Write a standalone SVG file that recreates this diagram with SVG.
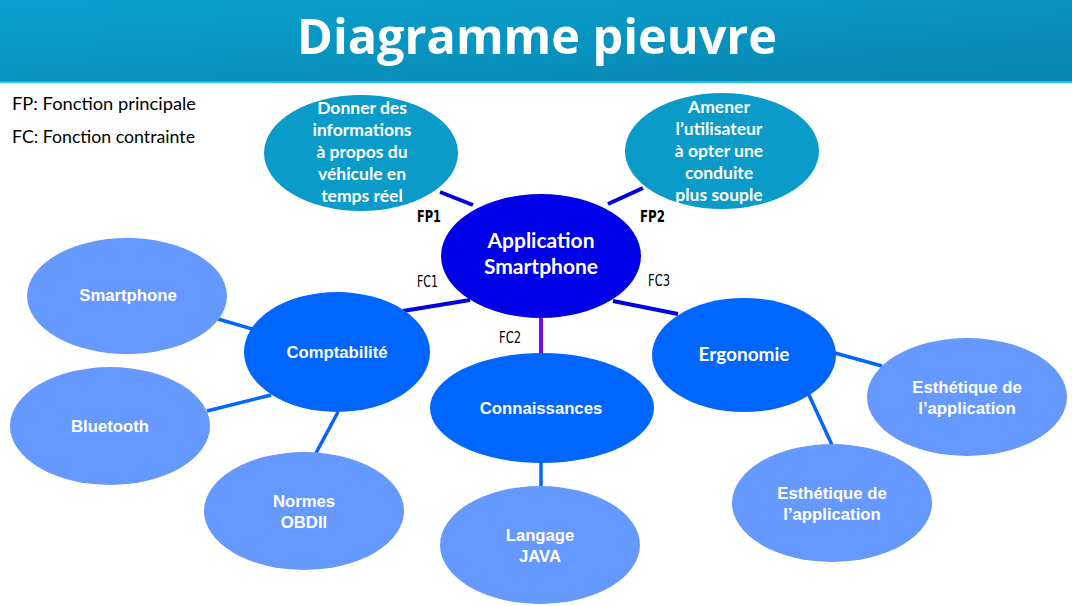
<svg xmlns="http://www.w3.org/2000/svg" width="1072" height="606" viewBox="0 0 1072 606">
<defs>
<linearGradient id="hdr" x1="0" y1="0" x2="1" y2="1">
<stop offset="0" stop-color="#0aa2cf"/>
<stop offset="1" stop-color="#0785b0"/>
</linearGradient>
<style>
.t{fill:#fff;font-weight:bold;text-anchor:middle}
.cal{font-family:Lato,"Open Sans","Liberation Sans",sans-serif;font-size:17.5px}
.ari{font-family:"Liberation Sans",Arial,sans-serif;font-size:16.7px}
.lbl{font-family:"DejaVu Sans Condensed","Liberation Sans",sans-serif;font-size:16px;fill:#000}
.teal{fill:#0a9bc9}
.core{fill:#0000e8}
.mid{fill:#0066ff}
.leaf{fill:#6699ff}
.c1{stroke:#0000e0;stroke-width:4;fill:none}
.c2{stroke:#0066ff;stroke-width:3.5;fill:none}
</style>
</defs>
<rect width="1072" height="606" fill="#fff"/>
<g id="header">
<rect x="0" y="0" width="1072" height="82" fill="url(#hdr)"/>
<rect x="0" y="81" width="1072" height="2" fill="#1ec3ea"/>
<text x="537" y="54" text-anchor="middle" font-family="'Open Sans',Lato,sans-serif" font-weight="bold" font-size="48" textLength="480" lengthAdjust="spacingAndGlyphs" fill="#fff">Diagramme pieuvre</text>
</g>
<g id="legend" font-family="Lato,'Open Sans',sans-serif" font-size="17.5" fill="#000">
<text x="12" y="110" textLength="184" lengthAdjust="spacingAndGlyphs">FP: Fonction principale</text>
<text x="12" y="143" textLength="183" lengthAdjust="spacingAndGlyphs">FC: Fonction contrainte</text>
</g>
<g id="connectors">
<line class="c1" x1="440" y1="192" x2="473" y2="205"/>
<line class="c1" x1="608" y1="204" x2="643" y2="188"/>
<line class="c1" x1="403" y1="311" x2="470" y2="300"/>
<line class="c1" x1="613" y1="301" x2="678" y2="314"/>
<line stroke="#6a10f0" stroke-width="4" x1="541" y1="316" x2="541" y2="354"/>
<line class="c2" x1="218" y1="319" x2="256" y2="330"/>
<line class="c2" x1="207" y1="411" x2="271" y2="395"/>
<line class="c2" x1="338" y1="412" x2="316" y2="453"/>
<line class="c2" x1="541" y1="462" x2="541" y2="487"/>
<line class="c2" x1="835" y1="353" x2="882" y2="366"/>
<line class="c2" x1="809" y1="395" x2="832" y2="445"/>
<text class="lbl" x="417" y="222" textLength="24" lengthAdjust="spacingAndGlyphs" font-weight="bold">FP1</text>
<text class="lbl" x="640" y="222" textLength="25" lengthAdjust="spacingAndGlyphs" font-weight="bold">FP2</text>
<text class="lbl" x="417" y="287" textLength="21" lengthAdjust="spacingAndGlyphs">FC1</text>
<text class="lbl" x="648" y="286" textLength="22" lengthAdjust="spacingAndGlyphs">FC3</text>
<text class="lbl" x="499" y="343" textLength="22" lengthAdjust="spacingAndGlyphs">FC2</text>
</g>
<g id="fp1">
<ellipse class="teal" cx="361" cy="153" rx="97" ry="58"/>
<text class="t cal" x="362"><tspan x="362" y="114">Donner des</tspan><tspan x="362" y="136">informations</tspan><tspan x="362" y="158">à propos du</tspan><tspan x="362" y="180">véhicule en</tspan><tspan x="362" y="202">temps réel</tspan></text>
</g>
<g id="fp2">
<ellipse class="teal" cx="722" cy="151" rx="97" ry="58"/>
<text class="t cal" x="719"><tspan x="719" y="113">Amener</tspan><tspan x="719" y="135">l’utilisateur</tspan><tspan x="719" y="157">à opter  une</tspan><tspan x="719" y="179">conduite</tspan><tspan x="719" y="201">plus souple</tspan></text>
</g>
<g id="center">
<ellipse class="core" cx="541" cy="256" rx="100" ry="62"/>
<text class="t cal" style="font-size:21px"><tspan x="541" y="248">Application</tspan><tspan x="541" y="274">Smartphone</tspan></text>
</g>
<g id="comptabilite">
<ellipse class="mid" cx="337" cy="352" rx="93" ry="60"/>
<text class="t ari" x="337" y="358">Comptabilité</text>
</g>
<g id="smartphone">
<ellipse class="leaf" cx="127" cy="296" rx="100" ry="58"/>
<text class="t ari" x="128" y="301">Smartphone</text>
</g>
<g id="bluetooth">
<ellipse class="leaf" cx="110" cy="426" rx="100" ry="59"/>
<text class="t ari" x="110" y="432">Bluetooth</text>
</g>
<g id="normes">
<ellipse class="leaf" cx="304" cy="511" rx="100" ry="59"/>
<text class="t ari"><tspan x="304" y="507">Normes</tspan><tspan x="304" y="528">OBDII</tspan></text>
</g>
<g id="connaissances">
<ellipse class="mid" cx="542" cy="408" rx="112" ry="55"/>
<text class="t ari" x="541" y="414">Connaissances</text>
</g>
<g id="langage">
<ellipse class="leaf" cx="540" cy="545" rx="100" ry="59"/>
<text class="t ari"><tspan x="540" y="541">Langage</tspan><tspan x="540" y="562">JAVA</tspan></text>
</g>
<g id="ergonomie">
<ellipse class="mid" cx="744" cy="355" rx="92" ry="57"/>
<text class="t cal" x="744" y="361" style="font-size:19px">Ergonomie</text>
</g>
<g id="esthetique1">
<ellipse class="leaf" cx="967" cy="397" rx="100" ry="59"/>
<text class="t ari"><tspan x="967" y="393">Esthétique de</tspan><tspan x="967" y="414">l’application</tspan></text>
</g>
<g id="esthetique2">
<ellipse class="leaf" cx="832" cy="503" rx="100" ry="59"/>
<text class="t ari"><tspan x="832" y="499">Esthétique de</tspan><tspan x="832" y="520">l’application</tspan></text>
</g>
</svg>
